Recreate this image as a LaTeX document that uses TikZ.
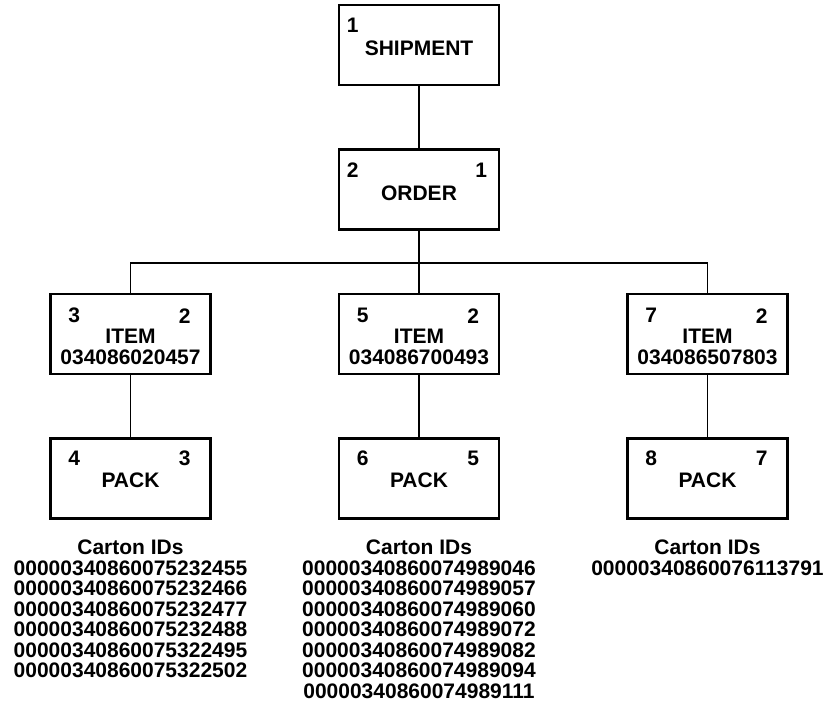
\documentclass[tikz,border=0pt]{standalone}
\usepackage{fontspec}
\setmainfont{Liberation Sans}[BoldFont={Liberation Sans Bold}]
\usetikzlibrary{positioning}

\begin{document}
\begin{tikzpicture}[x=1pt,y=1pt,font=\fontsize{21}{20.5}\selectfont\bfseries,
 node distance=62pt and 126pt,
 box/.style={draw,line width=2.5pt,minimum width=160pt,minimum height=80pt},
 link/.style={line width=1.8pt},
 num/.style={inner sep=0pt},
 ids/.style={align=center,inner sep=0pt}]
\useasboundingbox (0,0) rectangle (825,-708);
% boxes
\node[box] (ship) at (419,-45) {};
\node[box,below=of ship] (order) {};
\node[box,below=of order] (item2) {};
\node[box,left=of item2] (item1) {};
\node[box,right=of item2] (item3) {};
\node[box,below=of item1] (pack1) {};
\node[box,below=of item2] (pack2) {};
\node[box,below=of item3] (pack3) {};
\coordinate[below=32pt of order] (bus);
% texts in boxes
\node[num] (ship-a) at ([xshift=15,yshift=-22]ship.north west) {1};
\node[num] (ship-t) at ([yshift=-45]ship.north) {SHIPMENT};
\node[num] (order-a) at ([xshift=15,yshift=-22]order.north west) {2};
\node[num] (order-b) at ([xshift=-19,yshift=-22]order.north east) {1};
\node[num] (order-t) at ([yshift=-45]order.north) {ORDER};
\foreach \i/\a/\b/\upc/\p/\q in {1/3/2/034086020457/4/3,2/5/2/034086700493/6/5,3/7/2/034086507803/8/7} {
  \node[num] (item\i-a) at ([xshift=25,yshift=-23]item\i.north west) {\a};
  \node[num] (item\i-b) at ([xshift=-27,yshift=-23]item\i.north east) {\b};
  \node[num] (item\i-t) at ([yshift=-44]item\i.north) {ITEM};
  \node[num] (item\i-u) at ([yshift=-65]item\i.north) {\upc};
  \node[num] (pack\i-a) at ([xshift=25,yshift=-21]pack\i.north west) {\p};
  \node[num] (pack\i-b) at ([xshift=-27,yshift=-21]pack\i.north east) {\q};
  \node[num] (pack\i-t) at ([yshift=-43]pack\i.north) {PACK};
}
% carton lists
\node[ids,below=20pt of pack1] (ids1) {Carton IDs\\00000340860075232455\\00000340860075232466\\00000340860075232477\\00000340860075232488\\00000340860075322495\\00000340860075322502};
\node[ids,below=20pt of pack2] (ids2) {Carton IDs\\00000340860074989046\\00000340860074989057\\00000340860074989060\\00000340860074989072\\00000340860074989082\\00000340860074989094\\00000340860074989111};
\node[ids,below=20pt of pack3] (ids3) {Carton IDs\\00000340860076113791};
% connectors
\draw[link] (ship) -- (order);
\draw[link] (order) -- (item2);
\draw[link] (item1.north) |- (bus) -| (item3.north);
\foreach \i in {1,2,3} \draw[link] (item\i) -- (pack\i);
\end{tikzpicture}
\end{document}
